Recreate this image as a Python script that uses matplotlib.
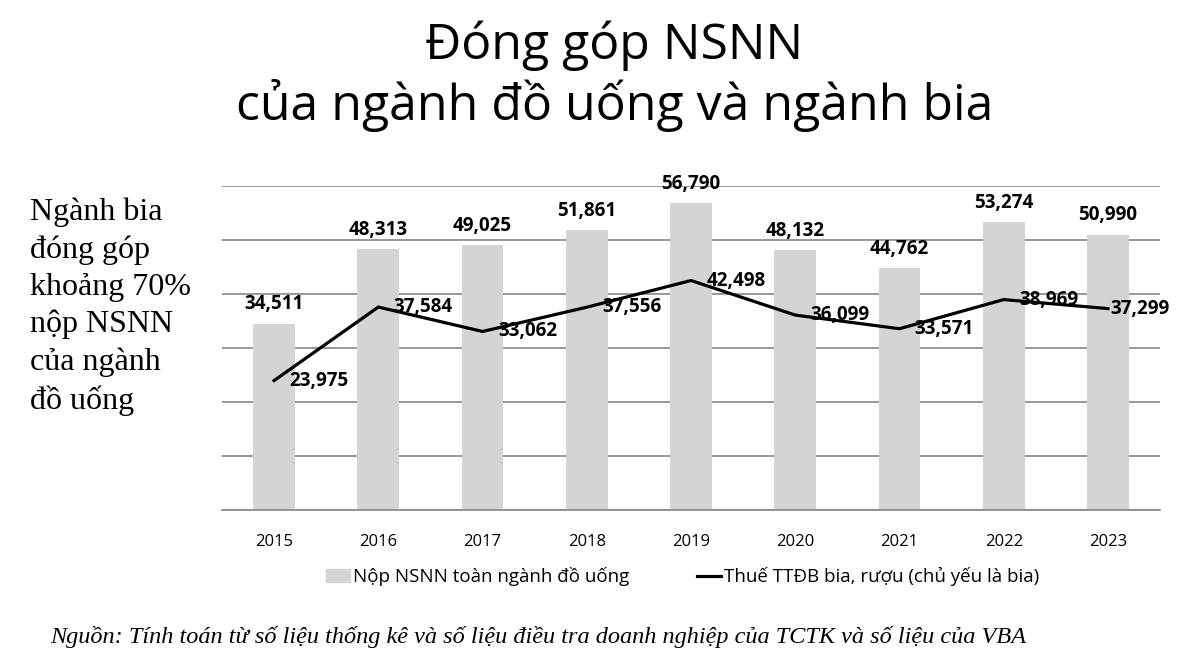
import matplotlib
import numpy as np

matplotlib.use("Agg")
import matplotlib.pyplot as plt
from matplotlib.lines import Line2D
from matplotlib.patches import Patch

years = ["2015", "2016", "2017", "2018", "2019", "2020", "2021", "2022", "2023"]
nsnn_total = [34511, 48313, 49025, 51861, 56790, 48132, 44762, 53274, 50990]
ttdb_beer = [23975, 37584, 33062, 37556, 42498, 36099, 33571, 38969, 37299]

title_lines = ["Đóng góp NSNN", "của ngành đồ uống và ngành bia"]
side_note = "Ngành bia\nđóng góp\nkhoảng 70%\nnộp NSNN\ncủa ngành\nđồ uống"
bar_label = "Nộp NSNN toàn ngành đồ uống"
line_label = "Thuế TTĐB bia, rượu (chủ yếu là bia)"
source = "Nguồn: Tính toán từ số liệu thống kê và số liệu điều tra doanh nghiệp của TCTK và số liệu của VBA"

sans = ["Open Sans", "DejaVu Sans"]
serif = ["Liberation Serif", "DejaVu Serif"]
bar_color = "#d4d4d4"
grid_color = "#868686"

fig = plt.figure(figsize=(12, 6.57), dpi=100)
ax = fig.add_axes([0.185, 0.2237, 0.7817, 0.4932])

x = np.arange(len(years))
ax.bar(x, nsnn_total, width=0.4, color=bar_color, zorder=2)
ax.plot(x, ttdb_beer, color="black", linewidth=2.3, zorder=3)

for xi, v in zip(x, nsnn_total):
    ax.annotate(f"{v:,}", (xi, v), xytext=(0, 14), textcoords="offset points",
                ha="center", va="center", fontsize=13.5, fontweight="bold", family=sans)
for i, (xi, v) in enumerate(zip(x, ttdb_beer)):
    dx = 2 if i == len(x) - 1 else 11
    ax.annotate(f"{v:,}", (xi, v), xytext=(dx, 0), textcoords="offset points",
                ha="left", va="center", fontsize=13.5, fontweight="bold", family=sans, zorder=4)

ax.set_xlim(-0.5, len(years) - 0.5)
ax.set_ylim(0, 60000)
ax.set_yticks(np.arange(0, 60001, 10000))
ax.yaxis.grid(True, color=grid_color, linewidth=1.2, zorder=0)
ax.tick_params(axis="y", left=False, labelleft=False)
ax.tick_params(axis="x", bottom=False, pad=14)
ax.set_xticks(x)
ax.set_xticklabels(years, fontsize=12, family=sans)
for side in ["top", "right", "left"]:
    ax.spines[side].set_visible(False)
ax.spines["bottom"].set_color(grid_color)
ax.spines["bottom"].set_linewidth(1.2)

handles = [Patch(color=bar_color), Line2D([0], [0], color="black", linewidth=2.3)]
fig.legend(handles, [bar_label, line_label], loc="center", bbox_to_anchor=(0.569, 0.122),
           ncol=2, frameon=False, prop={"family": sans, "size": 13.5},
           handlelength=1.3, handletextpad=0.15, columnspacing=3.6)

fig.text(0.512, 0.93, title_lines[0], ha="center", va="center", fontsize=36, family=sans)
fig.text(0.512, 0.84, title_lines[1], ha="center", va="center", fontsize=36, family=sans)
fig.text(0.025, 0.699, side_note, ha="left", va="top", fontsize=23, family=serif, linespacing=1.36)
fig.text(0.042, 0.03, source, ha="left", va="center", fontsize=17.5, family=serif, style="italic")

fig.savefig("out.png", dpi=100)
